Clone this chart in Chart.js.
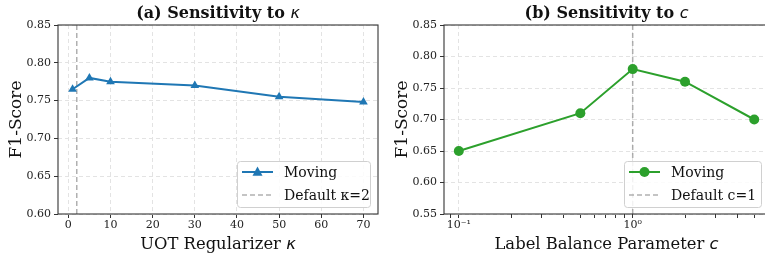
<!DOCTYPE html>
<html lang="en">
<head>
<meta charset="UTF-8">
<script src="https://cdn.jsdelivr.net/npm/chart.js"></script>
<title>Sensitivity</title>
<style>
    html, body { margin: 0; padding: 0; background: #fff; overflow: hidden; }
    #wrap { position: relative; width: 765px; height: 256px; overflow: hidden; }
    canvas { position: absolute; top: 0; }
    #kappaChart { left: 0; }
    #cChart { left: 383px; }
</style>
</head>
<body>
<div id="wrap">
    <canvas id="kappaChart" width="383" height="256"></canvas>
    <canvas id="cChart" width="392" height="256"></canvas>
</div>

<script>
    // (a) sensitivity to kappa
    const kappaValues = [1, 5, 10, 30, 50, 70];
    const kappaF1 = [0.765, 0.78, 0.775, 0.77, 0.755, 0.748];
    const kappaTicks = [0, 10, 20, 30, 40, 50, 60, 70];
    const kappaDefault = 2;
    const f1TicksA = [0.60, 0.65, 0.70, 0.75, 0.80, 0.85];

    // (b) sensitivity to c
    const cValues = [0.1, 0.5, 1, 2, 5];
    const cF1 = [0.65, 0.71, 0.78, 0.76, 0.70];
    const cMajorTicks = [0.1, 1];
    const cMinorTicks = [0.09, 0.2, 0.3, 0.4, 0.5, 0.6, 0.7, 0.8, 0.9, 2, 3, 4, 5, 6];
    const cDefault = 1;
    const f1TicksB = [0.55, 0.60, 0.65, 0.70, 0.75, 0.80, 0.85];

    const SERIF = '"DejaVu Serif", serif';
    const tickFont = { family: SERIF, size: 11 };
    const gridColor = '#e3e3e3';

    function drawParts(ctx, parts, cx, baseline) {
        let total = 0;
        parts.forEach(p => { ctx.font = p.font; p.w = ctx.measureText(p.text).width; total += p.w; });
        let x = cx - total / 2;
        ctx.textAlign = 'left';
        ctx.textBaseline = 'alphabetic';
        parts.forEach(p => { ctx.font = p.font; ctx.fillText(p.text, x, baseline); x += p.w; });
    }

    function decor(spec) {
        return {
            id: 'decor',
            afterDraw(chart) {
                const { ctx, chartArea: a } = chart;
                ctx.save();
                // frame
                ctx.strokeStyle = '#333';
                ctx.lineWidth = 1.1;
                ctx.strokeRect(a.left, a.top, a.right - a.left, a.bottom - a.top);

                ctx.fillStyle = '#111';
                const cx = (a.left + a.right) / 2;
                drawParts(ctx, spec.title, cx, 18);
                drawParts(ctx, spec.xlabel, cx, 249);

                ctx.save();
                ctx.translate(spec.ylabelX, (a.top + a.bottom) / 2);
                ctx.rotate(-Math.PI / 2);
                ctx.font = '17px ' + SERIF;
                ctx.textAlign = 'center';
                ctx.textBaseline = 'alphabetic';
                ctx.fillText('F1-Score', 0, 0);
                ctx.restore();

                // legend
                const L = spec.legend;
                ctx.fillStyle = 'rgba(255,255,255,0.85)';
                ctx.strokeStyle = '#d0d0d0';
                ctx.lineWidth = 1;
                ctx.beginPath();
                ctx.roundRect(L.x + 0.5, L.y + 0.5, L.w, L.h, 3);
                ctx.fill();
                ctx.stroke();
                chart.data.datasets.forEach((ds, i) => {
                    const y = L.y + 11 + i * 23;
                    const x0 = L.x + 5, x1 = x0 + 31;
                    ctx.save();
                    ctx.strokeStyle = ds.borderColor;
                    ctx.lineWidth = ds.borderWidth;
                    ctx.setLineDash(ds.borderDash || []);
                    ctx.beginPath();
                    ctx.moveTo(x0, y);
                    ctx.lineTo(x1, y);
                    ctx.stroke();
                    ctx.restore();
                    if (ds.pointRadius > 0) {
                        const mx = (x0 + x1) / 2, r = ds.pointRadius;
                        ctx.fillStyle = ds.backgroundColor;
                        ctx.beginPath();
                        if (ds.pointStyle === 'triangle') {
                            ctx.moveTo(mx, y - r * 1.1);
                            ctx.lineTo(mx + r, y + r * 0.75);
                            ctx.lineTo(mx - r, y + r * 0.75);
                            ctx.closePath();
                        } else {
                            ctx.arc(mx, y, r, 0, Math.PI * 2);
                        }
                        ctx.fill();
                    }
                    ctx.fillStyle = '#111';
                    ctx.font = '14px ' + SERIF;
                    ctx.textAlign = 'left';
                    ctx.fillText(ds.label, x1 + 11, y + 5);
                });
                ctx.restore();
            }
        };
    }

    function yScale(ticks, width) {
        return {
            min: ticks[0],
            max: ticks[ticks.length - 1],
            afterBuildTicks: s => { s.ticks = ticks.map(v => ({ value: v })); },
            afterFit: s => { s.width = width; },
            ticks: { font: tickFont, color: '#222', padding: 3, callback: v => v.toFixed(2) },
            grid: { color: gridColor, tickColor: '#333', tickLength: 4 },
            border: { display: false, dash: [4, 3] }
        };
    }

    // (a) kappa chart
    new Chart(document.getElementById('kappaChart'), {
        type: 'line',
        data: {
            datasets: [{
                label: 'Moving',
                data: kappaValues.map((k, i) => ({ x: k, y: kappaF1[i] })),
                borderColor: '#1f77b4',
                backgroundColor: '#1f77b4',
                borderWidth: 2,
                pointStyle: 'triangle',
                pointRadius: 5,
                pointBorderWidth: 0
            }, {
                label: 'Default κ=' + kappaDefault,
                data: [{ x: kappaDefault, y: f1TicksA[0] }, { x: kappaDefault, y: f1TicksA[f1TicksA.length - 1] }],
                borderColor: 'rgba(150,150,150,0.75)',
                backgroundColor: 'rgba(150,150,150,0.75)',
                borderWidth: 1.5,
                borderDash: [5, 3],
                pointRadius: 0
            }]
        },
        options: {
            responsive: false,
            animation: false,
            layout: { padding: { top: 25, right: 1, left: 0, bottom: 0 } },
            plugins: { legend: { display: false }, tooltip: { enabled: false } },
            scales: {
                x: {
                    type: 'linear',
                    min: -2.45,
                    max: 73.45,
                    afterBuildTicks: s => { s.ticks = kappaTicks.map(v => ({ value: v })); },
                    afterFit: s => { s.height = 42; },
                    ticks: { font: tickFont, color: '#222', padding: 1, maxRotation: 0, autoSkip: false, callback: v => String(v) },
                    grid: { color: gridColor, tickColor: '#333', tickLength: 4 },
                    border: { display: false, dash: [4, 3] }
                },
                y: yScale(f1TicksA, 58)
            }
        },
        plugins: [decor({
            title: [{ text: '(a) Sensitivity to ', font: 'bold 16px ' + SERIF }, { text: 'κ', font: 'italic 16px "DejaVu Sans"' }],
            xlabel: [{ text: 'UOT Regularizer ', font: '16.4px ' + SERIF }, { text: 'κ', font: 'italic 16.4px "DejaVu Sans"' }],
            ylabelX: 21,
            legend: { x: 237, y: 161, w: 133, h: 46 }
        })]
    });

    // (b) c chart
    const isMajor = v => cMajorTicks.some(m => Math.abs(m - v) < 1e-9);
    const allCTicks = cMajorTicks.concat(cMinorTicks).sort((a, b) => a - b);

    new Chart(document.getElementById('cChart'), {
        type: 'line',
        data: {
            datasets: [{
                label: 'Moving',
                data: cValues.map((c, i) => ({ x: c, y: cF1[i] })),
                borderColor: '#2ca02c',
                backgroundColor: '#2ca02c',
                borderWidth: 2,
                pointStyle: 'circle',
                pointRadius: 5,
                pointBorderWidth: 0
            }, {
                label: 'Default c=' + cDefault,
                data: [{ x: cDefault, y: f1TicksB[0] }, { x: cDefault, y: f1TicksB[f1TicksB.length - 1] }],
                borderColor: 'rgba(150,150,150,0.75)',
                backgroundColor: 'rgba(150,150,150,0.75)',
                borderWidth: 1.5,
                borderDash: [5, 3],
                pointRadius: 0
            }]
        },
        options: {
            responsive: false,
            animation: false,
            layout: { padding: { top: 25, right: 6, left: 0, bottom: 0 } },
            plugins: { legend: { display: false }, tooltip: { enabled: false } },
            scales: {
                x: {
                    type: 'logarithmic',
                    min: 0.0822,
                    max: 6.08,
                    afterBuildTicks: s => { s.ticks = allCTicks.map(v => ({ value: v })); },
                    afterFit: s => { s.height = 42; },
                    ticks: {
                        font: tickFont, color: '#222', padding: 1, maxRotation: 0, autoSkip: false,
                        callback: v => Math.abs(v - 0.1) < 1e-9 ? '10⁻¹' : (Math.abs(v - 1) < 1e-9 ? '10⁰' : '')
                    },
                    grid: {
                        color: c => (c.tick && isMajor(c.tick.value)) ? gridColor : 'rgba(0,0,0,0)',
                        tickColor: '#333',
                        tickLength: 4
                    },
                    border: { display: false, dash: [4, 3] }
                },
                y: yScale(f1TicksB, 61)
            }
        },
        plugins: [decor({
            title: [{ text: '(b) Sensitivity to ', font: 'bold 16px ' + SERIF }, { text: 'c', font: 'italic 16px "DejaVu Sans"' }],
            xlabel: [{ text: 'Label Balance Parameter ', font: '16.4px ' + SERIF }, { text: 'c', font: 'italic 16.4px "DejaVu Sans"' }],
            ylabelX: 24,
            legend: { x: 241, y: 161, w: 137, h: 46 }
        })]
    });
</script>
</body>
</html>
